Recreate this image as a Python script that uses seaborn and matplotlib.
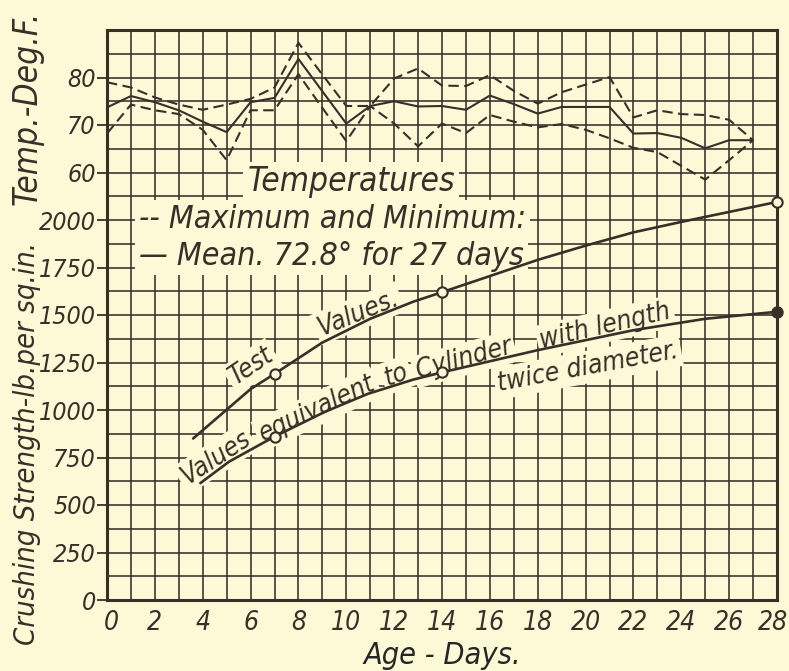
import matplotlib
matplotlib.use("Agg")
import matplotlib.pyplot as plt
from matplotlib import font_manager
import matplotlib.transforms as mtransforms
import numpy as np
import pandas as pd
import seaborn as sns

# ---- daily temperatures, deg F (age 0..27 days) ----
days = list(range(28))
temp_max = [79.0, 77.9, 75.8, 74.3, 73.2, 74.3, 75.5, 77.9, 87.3, 80.6,
            74.0, 74.0, 79.8, 81.9, 78.3, 78.2, 80.5, 77.2, 74.5, 76.9,
            78.5, 80.1, 71.6, 73.1, 72.3, 72.1, 71.1, 66.8]
temp_mean = [73.7, 76.1, 74.8, 73.1, 70.7, 68.5, 74.8, 75.7, 83.9, 77.1,
             70.3, 74.0, 75.0, 73.9, 74.0, 73.2, 76.2, 74.4, 72.4, 73.8,
             73.8, 73.8, 68.2, 68.3, 67.3, 65.1, 66.8, 66.8]
temp_min = [68.2, 74.3, 73.1, 72.3, 69.0, 62.6, 73.1, 73.1, 80.7, 73.6,
            66.6, 74.0, 70.3, 65.5, 70.3, 68.3, 72.1, 70.7, 69.5, 70.2,
            69.0, 67.2, 65.2, 64.3, 61.4, 58.5, 62.6, 66.8]

# ---- crushing strength curves, lb per sq. in. ----
test_days = [3.6, 6, 7, 9, 11, 12.8, 14, 18, 20, 22, 24, 28]
test_vals = [850, 1110, 1190, 1355, 1480, 1570, 1620, 1790, 1865, 1935, 1990, 2095]
equiv_days = [3.9, 5.1, 7, 9.1, 10.9, 12.8, 14, 18, 22, 25, 28]
equiv_vals = [615, 728, 860, 990, 1085, 1160, 1198, 1315, 1420, 1480, 1517]

# tested specimens
sample_days = [7, 14, 28]
test_samples = [1190, 1620, 2095]
equiv_samples = [860, 1198, 1517]
equiv_filled = [False, False, True]

# ---- axis ticks ----
x_ticks = list(range(0, 29, 2))
strength_ticks = list(range(0, 2001, 250))
temp_ticks = [60, 70, 80]

INK = "#372f28"
PAPER = "#fcf9d6"

sns.set_style("white")

# narrow lettering: prefer a condensed face when one is installed
fonts = font_manager.fontManager.ttflist
narrow = [f for f in fonts
          if ("Narrow" in f.name or "Condensed" in f.name
              or f.stretch in ("condensed", "semi-condensed", 75, 87.5))]
narrow_italic = [f for f in narrow if f.style in ("italic", "oblique")]
pick = (narrow_italic or narrow)
if pick:
    family = pick[0].name
    stretch = pick[0].stretch
else:
    family, stretch = "DejaVu Sans", "normal"
plt.rcParams["font.family"] = [family, "DejaVu Sans"]
plt.rcParams["font.stretch"] = stretch
plt.rcParams["font.style"] = "italic"
plt.rcParams["text.color"] = INK
plt.rcParams["xtick.color"] = INK
plt.rcParams["ytick.color"] = INK
SCALE = 1.0 if pick else 0.82

fig = plt.figure(figsize=(7.89, 6.71), dpi=100, facecolor=PAPER)
ax = fig.add_axes([107 / 789, 71 / 671, 670 / 789, 570 / 671], facecolor=PAPER)

ax.set_xlim(0, 28)
ax.set_ylim(0, 3000)
ax.set_xticks(x_ticks)
ax.set_xticks(range(29), minor=True)
ax.set_yticks(strength_ticks)
ax.set_yticks(np.arange(0, 3001, 125), minor=True)
ax.set_axisbelow(True)
ax.grid(which="both", color=INK, linewidth=1.15)
for s in ax.spines.values():
    s.set_color(INK)
    s.set_linewidth(2.2)
ax.tick_params(axis="x", which="both", length=0, pad=7, labelsize=19 * SCALE)
ax.tick_params(axis="y", which="major", length=7, width=1.3, direction="out",
               pad=1, labelsize=18 * SCALE)
ax.tick_params(axis="y", which="minor", length=0)

# nudge the end labels of the day scale inside the figure
xt = ax.xaxis.get_major_ticks()
xt[0].label1.set_transform(xt[0].label1.get_transform()
                           + mtransforms.ScaledTranslation(4 / 100, 0, fig.dpi_scale_trans))
xt[-1].label1.set_transform(xt[-1].label1.get_transform()
                            + mtransforms.ScaledTranslation(-4 / 100, 0, fig.dpi_scale_trans))

# strength curves
sns.lineplot(x=test_days, y=test_vals, ax=ax, color=INK, linewidth=1.9,
             zorder=4, sort=True)
sns.lineplot(x=equiv_days, y=equiv_vals, ax=ax, color=INK, linewidth=1.9,
             zorder=4, sort=True)

samples = pd.DataFrame({"day": sample_days, "test": test_samples,
                        "equiv": equiv_samples, "filled": equiv_filled})
sns.scatterplot(data=samples, x="day", y="test", ax=ax, marker="o", s=55,
                facecolor=PAPER, edgecolor=INK, linewidth=1.5, zorder=5,
                clip_on=False)
open_eq = samples[~samples["filled"]]
full_eq = samples[samples["filled"]]
sns.scatterplot(data=open_eq, x="day", y="equiv", ax=ax, marker="o", s=55,
                facecolor=PAPER, edgecolor=INK, linewidth=1.5, zorder=5,
                clip_on=False)
sns.scatterplot(data=full_eq, x="day", y="equiv", ax=ax, marker="o", s=60,
                facecolor=INK, edgecolor=INK, linewidth=1.2, zorder=5,
                clip_on=False)

# temperature scale shares the grid: 5 deg F per grid row
ax2 = ax.twinx()
ax2.set_ylim(-30, 90)
ax2.set_yticks(temp_ticks)
ax2.yaxis.tick_left()
ax2.tick_params(axis="y", which="major", length=7, width=1.3, direction="out",
                pad=1, labelsize=18 * SCALE, left=True, right=False,
                labelleft=True, labelright=False)
ax2.grid(False)
for s in ax2.spines.values():
    s.set_visible(False)

dash = (0, (5, 2.6))
sns.lineplot(x=days, y=temp_max, ax=ax2, color=INK, linewidth=1.5, linestyle=dash)
sns.lineplot(x=days, y=temp_min, ax=ax2, color=INK, linewidth=1.5, linestyle=dash)
sns.lineplot(x=days, y=temp_mean, ax=ax2, color=INK, linewidth=1.5)
ax2.set_xlim(0, 28)

# ---- lettering inside the grid ----
box = dict(boxstyle="square,pad=0.12", facecolor=PAPER, edgecolor="none")


def label(x, y, s, size=19, rot=0, ha="center", va="baseline"):
    ax.text(x, y, s, fontsize=size * SCALE, rotation=rot, ha=ha, va=va,
            rotation_mode="anchor", bbox=box, zorder=3)


label(10.2, 2150, "Temperatures", size=24)
label(1.35, 1960, "-- Maximum and Minimum:", size=23, ha="left")
label(1.35, 1765, "\u2014 Mean. 72.8\u00b0 for 27 days", size=23, ha="left")

label(6.2, 1200, "Test", rot=34)
label(10.6, 1475, "Values.", rot=22)

label(4.7, 715, "Values", rot=33)
label(8.9, 972, "equivalent", rot=25)
label(12.2, 1150, "to", rot=20)
label(15.0, 1232, "Cylinder", rot=15)
label(20.9, 1405, "with length", rot=13)
label(20.15, 1190, "twice diameter.", rot=10.5)

ax.set_xlabel("Age - Days.", fontsize=22 * SCALE, labelpad=4)
ax.set_ylabel("")
ax2.set_ylabel("")
fig.text(27 / 789, 1 - 443 / 671, "Crushing Strength-lb.per sq.in.",
         rotation=90, ha="center", va="center", fontsize=21 * SCALE)
fig.text(27 / 789, 1 - 108 / 671, "Temp.-Deg.F.",
         rotation=90, ha="center", va="center", fontsize=24 * SCALE)

fig.savefig("out.png", dpi=100, facecolor=PAPER)
